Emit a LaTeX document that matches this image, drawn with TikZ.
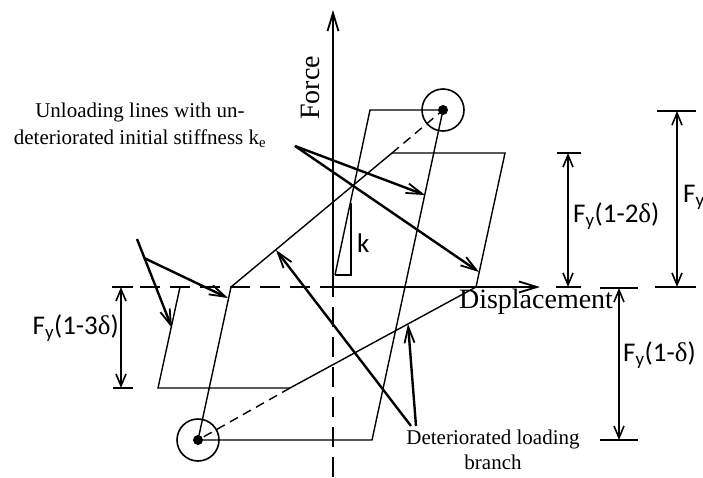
\documentclass[tikz,border=0pt]{standalone}
\usepackage{fontspec}
\setmainfont{Liberation Serif}
\newfontfamily\calfont{Carlito}
\usetikzlibrary{arrows.meta, calc}
\tikzstyle{loopline} = [line width=1.4pt, line join=miter]
\tikzstyle{dashloop} = [line width=1.4pt, dash pattern=on 9pt off 6pt]
\tikzstyle{axisline} = [line width=2.4pt, -{Straight Barb[length=18pt, width=11pt, line width=1.8pt]}]
\tikzstyle{axisdash} = [line width=2.4pt, dash pattern=on 20pt off 10pt]
\tikzstyle{pointer} = [line width=2.4pt, -{Straight Barb[length=16pt, width=10pt, line width=1.8pt]}]
\tikzstyle{dimline} = [line width=2.2pt, {Straight Barb[length=12pt, width=10pt, line width=1.6pt]}-{Straight Barb[length=12pt, width=10pt, line width=1.6pt]}]
\tikzstyle{dimtick} = [line width=2.2pt]
\tikzstyle{ring} = [circle, draw, line width=1.6pt, minimum size=42pt, inner sep=0pt]
\tikzstyle{dot} = [circle, fill, minimum size=10pt, inner sep=0pt]
\tikzstyle{axislabel} = [font=\fontsize{28}{30}\selectfont, inner sep=0pt]
\tikzstyle{note} = [font=\fontsize{21}{27}\selectfont, align=center, inner sep=0pt]
\tikzstyle{symlabel} = [font=\calfont\fontsize{27}{30}\selectfont, inner sep=0pt]
\newcommand{\dl}{{\rmfamily δ}}

\begin{document}
\begin{tikzpicture}[x=1pt, y=-1pt]
  \useasboundingbox (0,0) rectangle (703,477);

  \coordinate (origin) at (333,287);
  \coordinate (ytop) at (333,10);
  \coordinate (ybot) at (333,477);
  \coordinate (xright) at (540,287);
  \coordinate (xleft) at (140,287);

  \coordinate (a0) at (335,275);
  \coordinate (a1) at (370,110);
  \coordinate (a2) at (372,440);
  \coordinate (z1) at (231,287);
  \coordinate (b1) at (392,153);
  \coordinate (b2) at (505,153);
  \coordinate (z2) at (476,287);
  \coordinate (c1) at (290,388);
  \coordinate (c2) at (158,388);
  \coordinate (z3) at (180,287);
  \coordinate (kfoot) at (351,275);
  \coordinate (ktop) at (351,203);

  \node (peak1) [ring] at (443,110) {};
  \node (dot1) [dot] at (443,110) {};
  \node (peak2) [ring] at (198,440) {};
  \node (dot2) [dot] at (198,440) {};

  \draw[axisdash] (ybot) -- (origin);
  \draw[axisdash] (xleft) -- (origin);
  \draw[axisline] (origin) -- (ytop);
  \draw[axisline] (origin) -- (xright);

  \node (force) [axislabel, rotate=90] at (310,88) {Force};
  \node (displ) [axislabel] at (536,302) {Displacement};

  \draw[loopline] (a0) -- (a1) -- (dot1.center) -- (a2) -- (dot2.center) -- (z1) -- (b1) -- (b2)
    -- (z2) -- (c1) -- (c2) -- (z3);
  \draw[loopline] (a0) -- (kfoot) -- (ktop);
  \draw[dashloop] (b1) -- (dot1.center);
  \draw[dashloop] (c1) -- (dot2.center);
  \node (klbl) [symlabel, anchor=west] at (357,243) {k};

  \node (unload) [note] at (140,125) {Unloading lines with un-\\deteriorated initial stiffness k\textsubscript{e}};
  \node (deter) [note, font=\fontsize{21}{25}\selectfont] at (493,450) {Deteriorated loading\\branch};

  \coordinate (u0) at (295,146);
  \coordinate (t1) at (425,195);
  \coordinate (t2) at (479,272);
  \draw[pointer] (u0) -- (t1);
  \draw[pointer] (u0) -- (t2);

  \coordinate (v1) at (137,239);
  \coordinate (v2) at (144,258);
  \coordinate (t3) at (172,328);
  \coordinate (t4) at (228,298);
  \draw[pointer] (v1) -- (t3);
  \draw[pointer] (v2) -- (t4);

  \coordinate (w1) at (411,426);
  \coordinate (w2) at (416,426);
  \coordinate (t5) at (276,250);
  \coordinate (t6) at (408,324);
  \draw[pointer] (w1) -- (t5);
  \draw[pointer] (w2) -- (t6);

  \coordinate (d2top) at (568,153);
  \coordinate (d2bot) at (568,287);
  \coordinate (dftop) at (677,111);
  \coordinate (dfbot) at (677,287);
  \coordinate (d1top) at (619,288);
  \coordinate (d1bot) at (619,440);
  \coordinate (d3top) at (121,287);
  \coordinate (d3bot) at (121,388);

  \draw[dimline] (d2top) -- (d2bot);
  \draw[dimline] (dftop) -- (dfbot);
  \draw[dimline] (d1top) -- (d1bot);
  \draw[dimline] (d3top) -- (d3bot);

  \draw[dimtick] ($(d2top)+(-11,0)$) -- ($(d2top)+(13,0)$);
  \draw[dimtick] ($(d2bot)+(-12,0)$) -- ($(d2bot)+(13,0)$);
  \draw[dimtick] ($(dftop)+(-20,0)$) -- ($(dftop)+(19,0)$);
  \draw[dimtick] ($(dfbot)+(-22,0)$) -- ($(dfbot)+(19,0)$);
  \draw[dimtick] ($(d1top)+(-19,0)$) -- ($(d1top)+(19,0)$);
  \draw[dimtick] ($(d1bot)+(-19,0)$) -- ($(d1bot)+(19,0)$);
  \draw[dimtick] ($(d3top)+(-9,0)$) -- ($(d3top)+(12,0)$);
  \draw[dimtick] ($(d3bot)+(-8,0)$) -- ($(d3bot)+(12,0)$);

  \node (lbl2d) [symlabel, anchor=west] at (573,216) {F\textsubscript{y}(1-2\dl)};
  \node (lblf) [symlabel, anchor=west] at (683,197) {F\textsubscript{y}};
  \node (lbl1d) [symlabel, anchor=west] at (623,355) {F\textsubscript{y}(1-\dl)};
  \node (lbl3d) [symlabel, anchor=east] at (119,328) {F\textsubscript{y}(1-3\dl)};
\end{tikzpicture}
\end{document}
